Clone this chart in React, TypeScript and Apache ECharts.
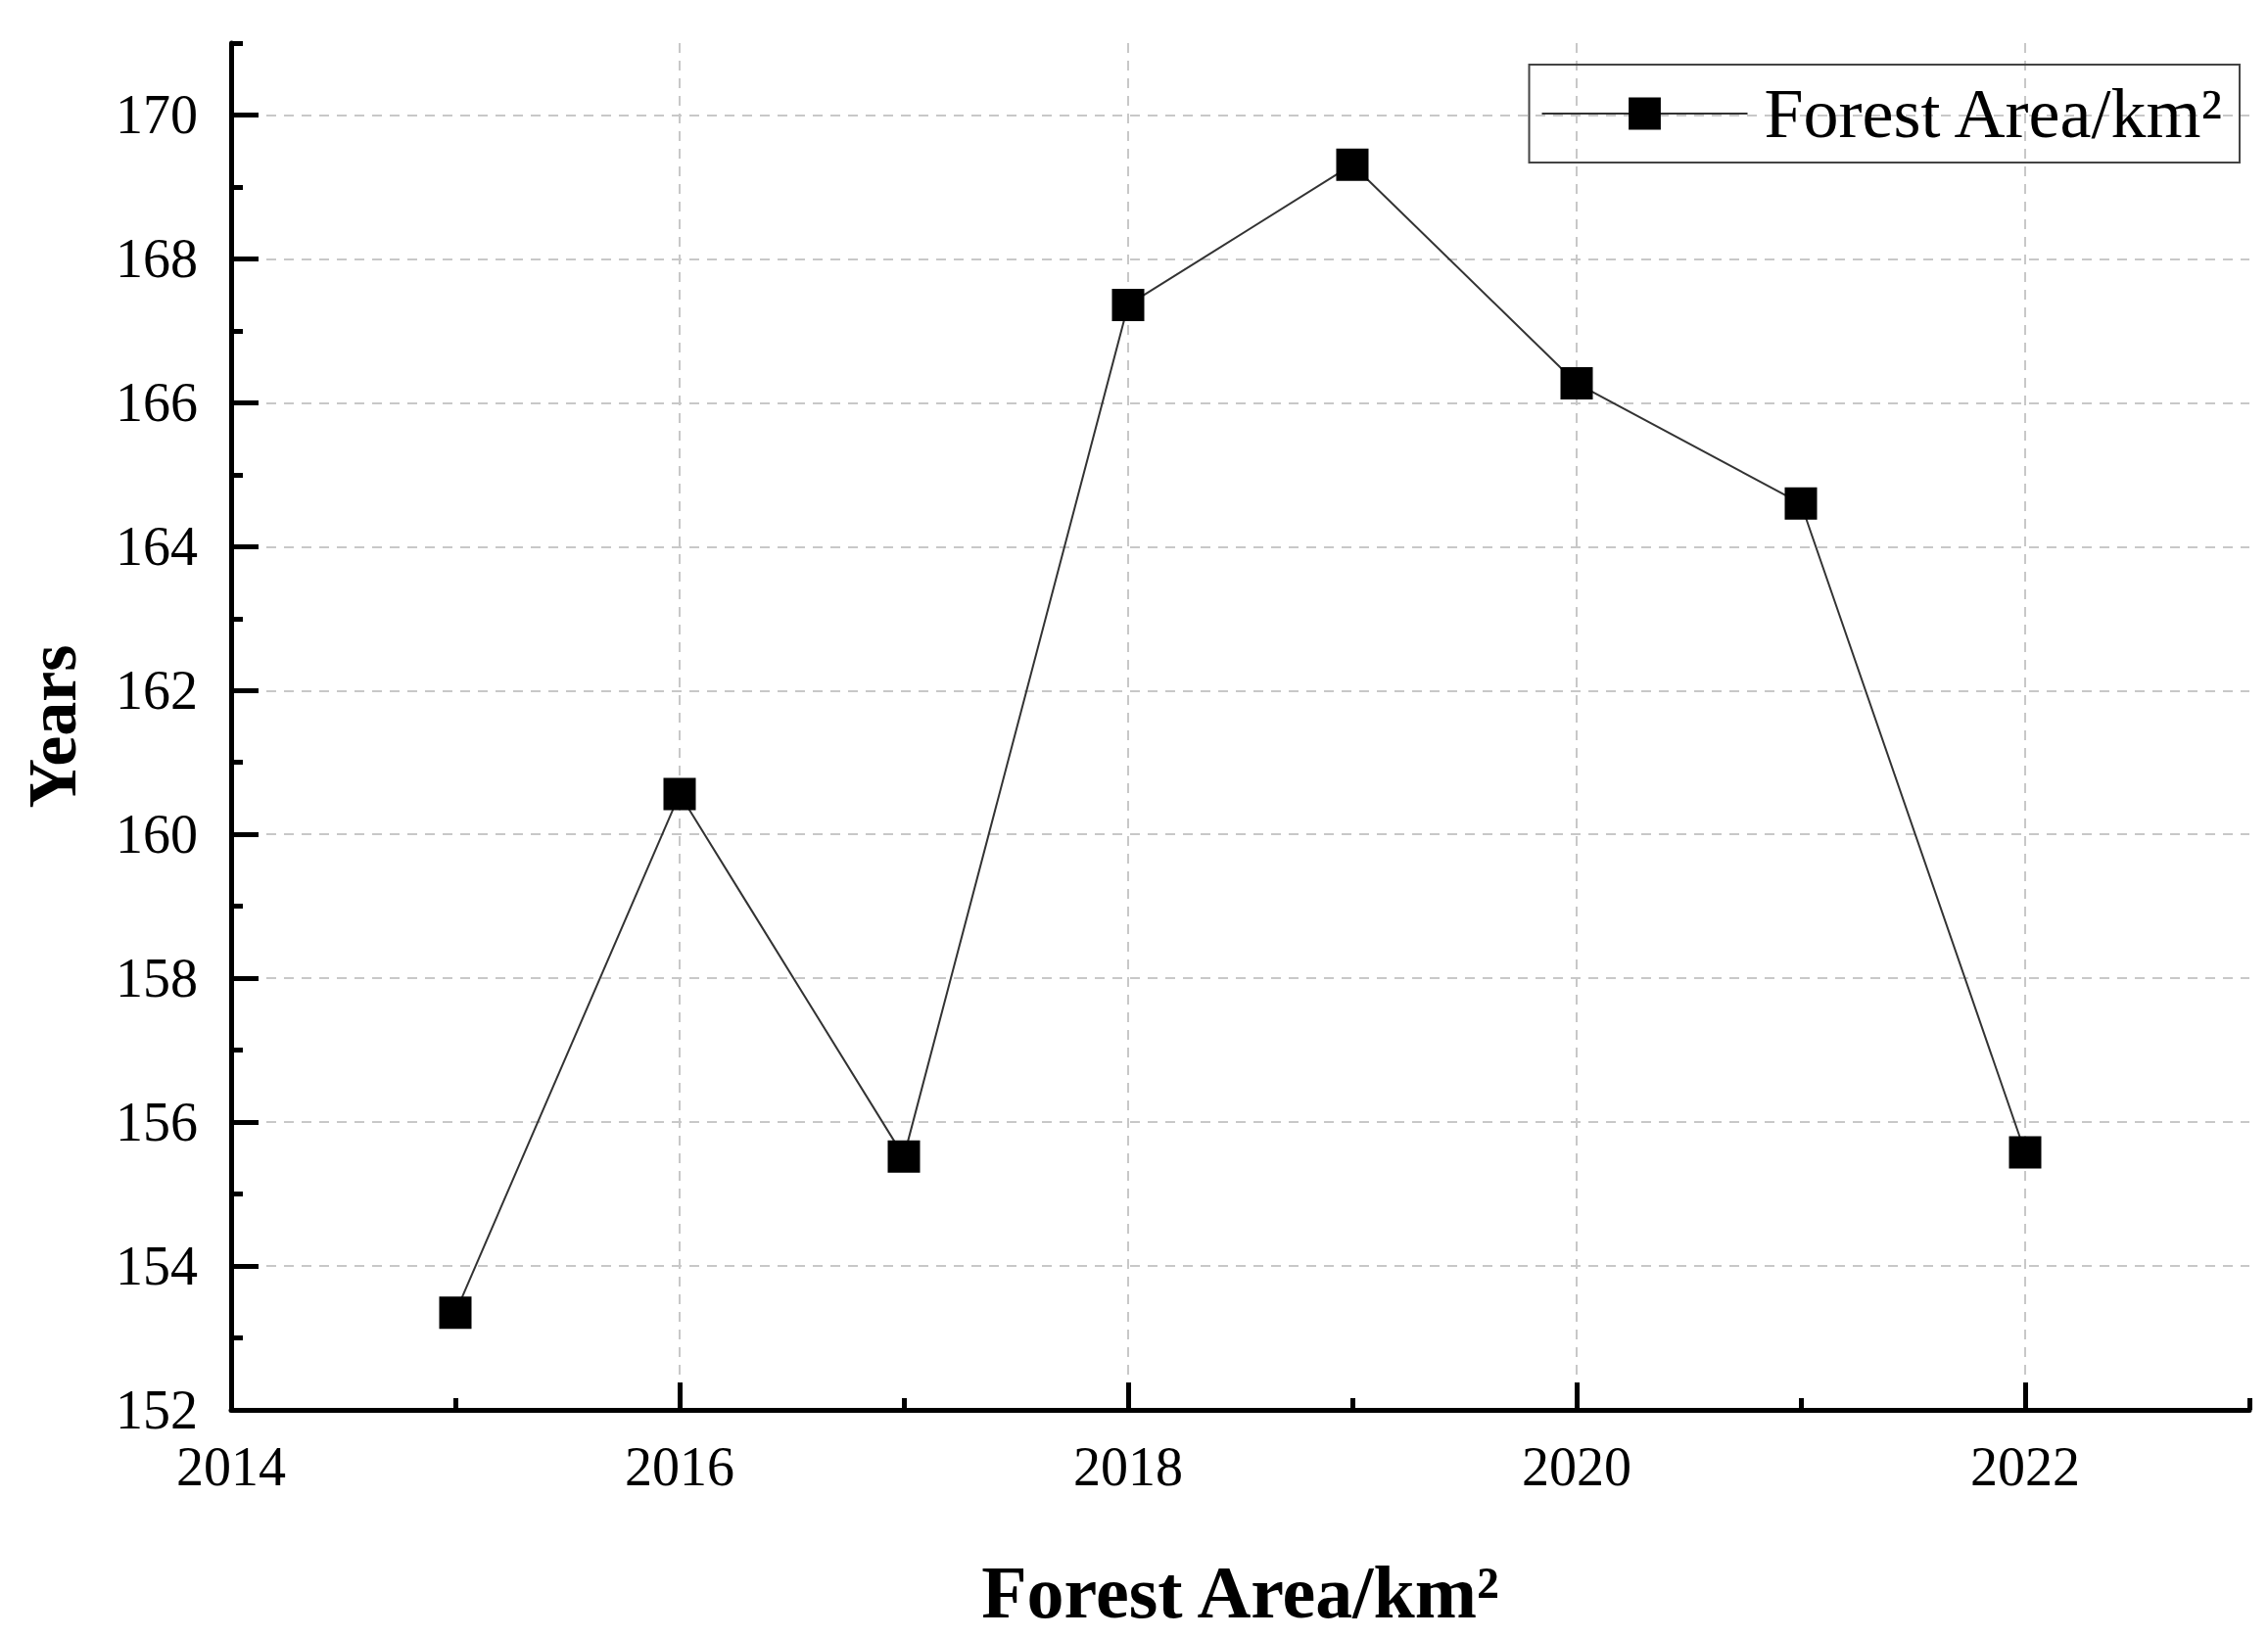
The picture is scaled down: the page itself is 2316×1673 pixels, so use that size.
import React, { useEffect, useRef } from "react";
import * as echarts from "echarts";

const years = [2015, 2016, 2017, 2018, 2019, 2020, 2021, 2022];
const forestArea = [153.35, 160.56, 155.52, 167.36, 169.31, 166.27, 164.6, 155.58];
const xMajorTicks = [2014, 2016, 2018, 2020, 2022];
const xMinorTicks = [2015, 2017, 2019, 2021, 2023];
const yMajorTicks = [152, 154, 156, 158, 160, 162, 164, 166, 168, 170];
const yMinorTicks = [153, 155, 157, 159, 161, 163, 165, 167, 169, 171];
const seriesName = "Forest Area/km²";

const FONT = "'Liberation Serif', 'DejaVu Serif', serif";

export default function App() {
  const ref = useRef<HTMLDivElement>(null);
  useEffect(() => {
    if (!ref.current) return;
    const chart = echarts.init(ref.current, undefined, { renderer: "svg" });
    const axisLineStyle = { color: "#000", width: 5 };
    const split = { show: true, lineStyle: { color: "#c8c8c8", width: 2, type: [10, 8] as any } };
    const plain = (v: number) => String(v);
    chart.setOption({
      animation: false,
      backgroundColor: "#fff",
      grid: { left: 236, right: 19, top: 44, bottom: 233, containLabel: false },
      legend: {
        data: [seriesName],
        right: 29,
        top: 66,
        orient: "horizontal",
        borderColor: "#444",
        borderWidth: 2,
        padding: [10, 14, 10, 12],
        itemWidth: 210,
        itemHeight: 41,
        itemGap: 0,
        textStyle: { fontFamily: FONT, fontSize: 72, color: "#000", padding: [0, 0, 0, 12], lineHeight: 80 },
      },
      xAxis: [
        {
          type: "value",
          min: 2014,
          max: 2023,
          interval: 1,
          position: "bottom",
          name: "Forest Area/km²",
          nameLocation: "middle",
          nameGap: 148,
          nameTextStyle: { fontFamily: FONT, fontSize: 76, fontWeight: "bold", color: "#000" },
          axisLine: { show: true, lineStyle: axisLineStyle },
          axisTick: { show: true, inside: true, length: 28, lineStyle: axisLineStyle, customValues: xMajorTicks },
          axisLabel: { show: true, customValues: xMajorTicks, formatter: plain, margin: 30, fontFamily: FONT, fontSize: 56, color: "#000" },
          splitLine: split,
        },
        {
          type: "value",
          min: 2014,
          max: 2023,
          interval: 1,
          position: "bottom",
          axisLine: { show: false },
          axisTick: { show: true, inside: true, length: 12, lineStyle: axisLineStyle, customValues: xMinorTicks },
          axisLabel: { show: false },
          splitLine: { show: false },
        },
      ],
      yAxis: [
        {
          type: "value",
          min: 152,
          max: 171,
          interval: 1,
          position: "left",
          name: "Years",
          nameLocation: "middle",
          nameGap: 148,
          nameRotate: 90,
          nameTextStyle: { fontFamily: FONT, fontSize: 70, fontWeight: "bold", color: "#000" },
          axisLine: { show: true, lineStyle: axisLineStyle },
          axisTick: { show: true, inside: true, length: 28, lineStyle: axisLineStyle, customValues: yMajorTicks },
          axisLabel: { show: true, customValues: yMajorTicks, formatter: plain, margin: 34, fontFamily: FONT, fontSize: 56, color: "#000" },
          splitLine: split,
        },
        {
          type: "value",
          min: 152,
          max: 171,
          interval: 1,
          position: "left",
          axisLine: { show: false },
          axisTick: { show: true, inside: true, length: 12, lineStyle: axisLineStyle, customValues: yMinorTicks },
          axisLabel: { show: false },
          splitLine: { show: false },
        },
      ],
      series: [
        {
          name: seriesName,
          type: "line",
          xAxisIndex: 0,
          yAxisIndex: 0,
          data: years.map((y, i) => [y, forestArea[i]]),
          symbol: "rect",
          symbolSize: 33,
          itemStyle: { color: "#000" },
          lineStyle: { color: "#333", width: 2 },
        },
      ],
    });
    return () => chart.dispose();
  }, []);
  return (
    <div
      ref={ref}
      style={{ position: "fixed", left: 0, top: 0, width: 2316, height: 1673, background: "#fff" }}
    />
  );
}
